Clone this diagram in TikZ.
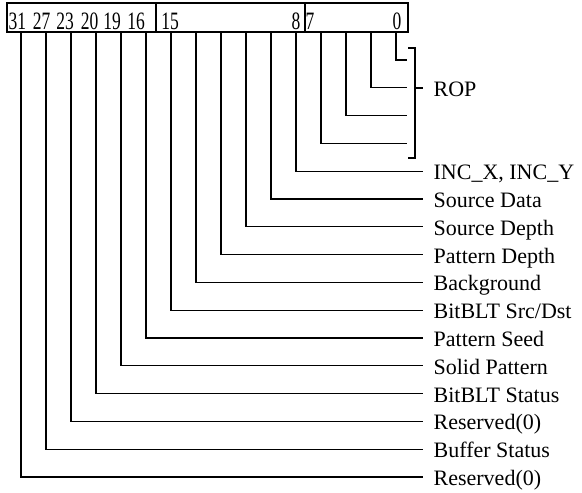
\documentclass[tikz,border=0pt]{standalone}
\usepackage{fontspec}
\usepackage{graphicx}
\setmainfont{Liberation Serif}
\begin{document}
\begin{tikzpicture}[x=1pt,y=-1pt,line width=1.3pt,
  lab/.style={anchor=west,inner xsep=10pt,inner ysep=0pt,text height=17pt,text depth=0pt,font=\fontsize{22}{26}\selectfont},
  num/.style={anchor=base,inner sep=0pt,font=\fontsize{25}{28}\selectfont}]
\useasboundingbox (0,0) rectangle (582,493);
% register box
\draw (7,3) rectangle (408,32);
\draw (156,3) -- (156,32);
\draw (305,3) -- (305,32);
\foreach \x/\t in {17.5/31,41.5/27,65/23,89.5/20,112/19,136/16,170/15,296/8,310/7,397/0}
  \node[num] (n\t) at (\x,29) {\scalebox{0.7}[1]{\t}};
% bit taps
\foreach \i in {0,...,15}
  \coordinate (b\i) at ({21+25*\i},32);
% ROP field
\foreach \i in {12,...,15} {
  \coordinate (r\i) at (407,{60+27.8*(15-\i)});
  \draw (b\i) |- (r\i);
}
\coordinate (bt) at (408,48);
\coordinate (bb) at (408,158);
\node[lab] (rop) at (423,88) {ROP};
\draw (bt) -- (415,48) -- (415,158) -- (bb);
\draw (415,88) -- (rop.west);
% other fields
\foreach \i/\t in {11/{INC\_X, INC\_Y},10/{Source Data},9/{Source Depth},8/{Pattern Depth},
  7/{Background},6/{BitBLT Src/Dst},5/{Pattern Seed},4/{Solid Pattern},3/{BitBLT Status},
  2/{Reserved(0)},1/{Buffer Status},0/{Reserved(0)}} {
  \node[lab] (l\i) at (423,{60+27.8*(15-\i)}) {\t};
  \draw (b\i) |- (l\i.west);
}
\end{tikzpicture}
\end{document}
